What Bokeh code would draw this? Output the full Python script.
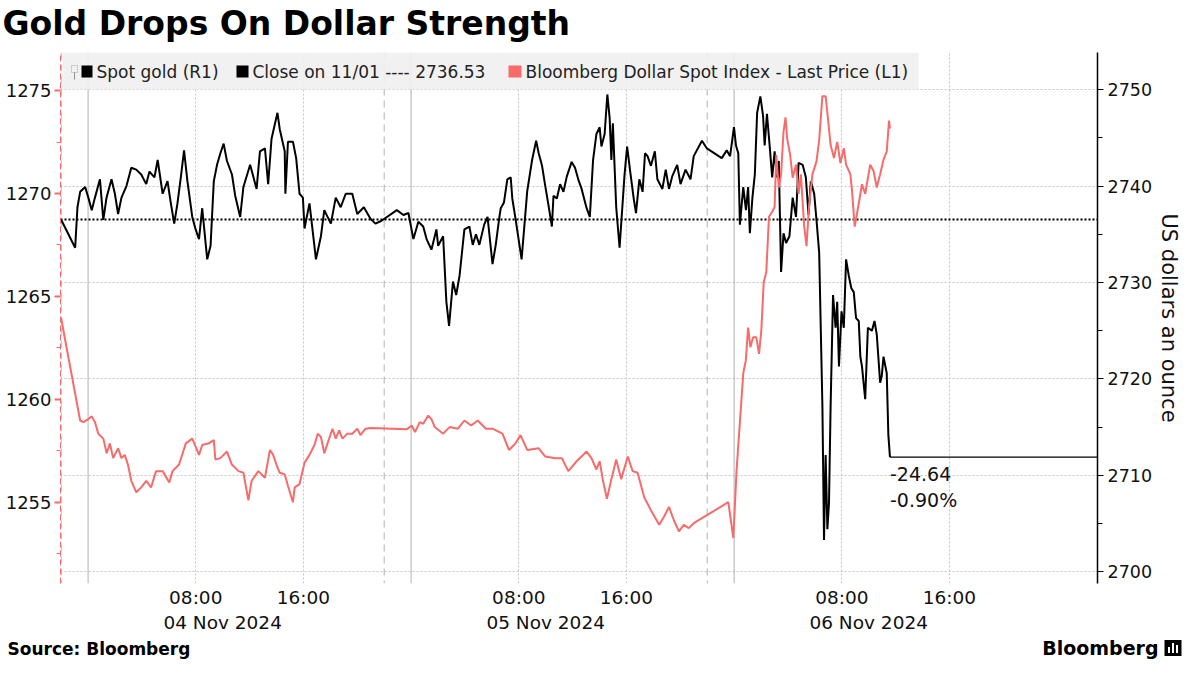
import numpy as np
import pandas as pd
from bokeh.plotting import figure
from bokeh.layouts import column
from bokeh.models import (Range1d, LinearAxis, DatetimeAxis, FixedTicker, SingleIntervalTicker,
                          DatetimeTickFormatter, Grid, Span, Label, BoxAnnotation)
from bokeh.embed import file_html
from bokeh.resources import INLINE

# ---------------- data (hours from 2024-11-04 00:00) ----------------
gold_hours = [-2.00, -0.96, -0.79, -0.59, -0.22, 0.02, 0.27, 0.51, 0.88, 1.13, 1.37, 1.74, 1.99, 2.23, 2.48,
              2.85, 3.21, 3.58, 3.95, 4.32, 4.56, 4.93, 5.17, 5.54, 5.90, 6.15, 6.40, 6.64, 6.89, 7.13,
              7.38, 7.74, 7.99, 8.24, 8.48, 8.85, 9.10, 9.34, 9.58, 9.83, 10.07, 10.32, 10.69, 10.93,
              11.30, 11.54, 12.04, 12.52, 12.77, 13.14, 13.38, 13.63, 14.07, 14.24, 14.61, 14.66, 14.85,
              15.22, 15.46, 15.71, 15.96, 16.08, 16.45, 16.93, 17.30, 17.55, 18.04, 18.40, 18.77, 19.14,
              19.63, 20.00, 20.49, 20.98, 21.35, 21.80, 22.94,
              23.43, 23.80, 24.17, 24.54, 24.90, 25.15, 25.51, 25.88, 26.01, 26.38, 26.62, 26.82, 27.11,
              27.35, 27.60, 27.96, 28.33, 28.58, 28.82, 29.07, 29.43, 29.68, 30.05, 30.29, 30.54, 30.66,
              30.90, 31.15, 31.40, 31.52, 31.76, 32.21, 32.63, 32.99, 33.29, 33.48, 33.73, 33.97, 34.21,
              34.46, 34.58, 34.83, 35.07, 35.32, 35.57, 35.93, 36.18, 36.42, 36.67, 37.04, 37.28, 37.52,
              37.77, 38.01, 38.14, 38.38, 38.58, 38.75, 38.88, 38.99, 39.24, 39.49, 39.85, 40.05, 40.29,
              40.54, 40.71, 40.96, 41.20, 41.38, 41.57, 41.82, 42.11, 42.30, 42.67, 42.92, 43.16, 43.40,
              43.77, 44.02, 44.39, 44.76, 45.00, 45.61, 45.98,
              47.08, 47.45, 47.70, 47.99, 48.14, 48.31, 48.43, 48.68, 48.88, 49.04, 49.17, 49.36, 49.54,
              49.71, 49.95, 50.15, 50.27, 50.44, 50.64, 50.83, 51.01, 51.18, 51.32, 51.49, 51.67, 51.86,
              52.11, 52.35, 52.60, 52.79, 53.09, 53.33, 53.53, 53.70, 53.95, 54.12, 54.32, 54.56, 54.68,
              54.80, 54.93, 55.05, 55.17, 55.35, 55.54, 55.66, 55.79, 55.98, 56.15, 56.32, 56.52, 56.71,
              56.89, 57.06, 57.26, 57.38, 57.50, 57.74, 57.94, 58.24, 58.43, 58.60, 58.85, 58.97, 59.10,
              59.34, 59.46, 59.58]
gold_price = [2736.5, 2733.6, 2737.8, 2739.4, 2739.9, 2738.8, 2737.5, 2738.8, 2740.7, 2736.5, 2738.8, 2740.7,
              2739.2, 2737.1, 2738.8, 2740.0, 2741.9, 2741.7, 2741.2, 2740.2, 2741.5, 2740.9, 2742.7, 2739.2,
              2740.5, 2738.2, 2736.1, 2738.2, 2740.9, 2743.7, 2740.5, 2736.8, 2735.5, 2734.5, 2737.7, 2732.4,
              2733.8, 2740.5, 2742.2, 2743.4, 2744.4, 2742.6, 2741.2, 2739.0, 2736.8, 2739.9, 2742.2, 2739.7,
              2743.6, 2743.9, 2740.2, 2744.9, 2747.6, 2745.9, 2743.6, 2739.2, 2744.6, 2744.6, 2742.9, 2739.2,
              2738.8, 2735.6, 2738.2, 2732.4, 2734.8, 2737.5, 2736.1, 2738.8, 2737.8, 2739.2, 2739.2, 2737.1,
              2737.8, 2736.6, 2736.1, 2736.4, 2737.5,
              2737.0, 2737.2, 2734.5, 2736.3, 2735.8, 2734.5, 2733.4, 2735.5, 2733.8, 2734.8, 2728.0, 2725.5,
              2730.1, 2728.7, 2730.7, 2735.5, 2735.8, 2733.9, 2735.0, 2733.9, 2736.0, 2736.8, 2731.9, 2733.9,
              2736.6, 2737.7, 2738.3, 2740.7, 2740.9, 2738.7, 2736.6, 2732.4, 2739.5, 2742.7, 2744.7, 2743.4,
              2742.1, 2740.0, 2738.0, 2735.8, 2739.0, 2738.7, 2740.2, 2739.4, 2741.0, 2742.5, 2741.9, 2740.7,
              2739.7, 2737.7, 2736.8, 2742.7, 2745.4, 2746.1, 2744.1, 2745.4, 2749.5, 2747.1, 2742.7, 2746.5,
              2737.8, 2733.6, 2741.0, 2744.1, 2741.4, 2738.7, 2737.2, 2740.7, 2739.4, 2743.4, 2743.1, 2742.1,
              2743.6, 2740.7, 2739.7, 2741.7, 2739.7, 2741.0, 2742.2, 2740.2, 2741.7, 2740.7, 2743.1, 2744.7,
              2743.9,
              2742.9, 2743.7, 2743.1, 2746.1, 2744.2, 2743.4, 2736.0, 2739.9, 2737.5, 2739.9, 2735.1, 2738.8,
              2741.2, 2747.6, 2749.3, 2747.3, 2744.2, 2747.5, 2744.2, 2740.9, 2743.6, 2740.9, 2742.6, 2731.1,
              2735.1, 2734.1, 2734.8, 2738.8, 2736.8, 2742.4, 2742.2, 2740.9, 2737.0, 2740.5, 2739.2, 2736.5,
              2733.1, 2717.2, 2703.3, 2712.1, 2704.4, 2707.1, 2717.2, 2728.7, 2725.3, 2728.0, 2721.3, 2727.0,
              2725.3, 2732.4, 2730.7, 2729.4, 2729.0, 2726.3, 2726.0, 2722.3, 2721.3, 2717.9, 2725.3, 2725.0,
              2726.0, 2724.6, 2719.6, 2720.3, 2722.3, 2720.6, 2714.2, 2711.89]

dxy_hours = [-2.01, -0.59, -0.35, 0.02, 0.27, 0.51, 0.76, 1.13, 1.38, 1.62, 1.86, 2.23, 2.48, 2.72, 2.96,
             3.21, 3.58, 3.95, 4.32, 4.68, 5.05, 5.54, 6.03, 6.27, 6.76, 7.26, 7.74, 7.99, 8.24, 8.48,
             8.97, 9.34, 9.46, 9.83, 10.32, 10.68, 11.18, 11.54, 11.91, 12.15, 12.65, 13.14, 13.51, 13.75,
             13.99, 14.24, 14.61, 14.85, 15.22, 15.35, 15.71, 16.08, 16.45, 16.82, 17.06, 17.30, 17.55,
             17.79, 18.16, 18.40, 18.65, 18.90, 19.26, 19.63, 20.00, 20.24, 20.61, 20.98,
             23.68, 24.04, 24.29, 24.65, 24.90, 25.27, 25.51, 25.76, 26.38, 26.86, 27.48, 27.96, 28.46,
             28.95, 29.56, 30.05, 30.79, 31.27, 31.76, 32.13, 32.63, 33.48, 33.97, 34.71, 35.20, 35.68,
             36.30, 37.04, 37.40, 37.77, 38.01, 38.26, 38.55, 38.88, 39.24, 39.61, 40.10, 40.46, 40.83,
             41.32, 41.82, 42.43, 42.79, 43.16, 43.53, 43.90, 44.26, 44.63, 45.00,
             47.57, 47.94, 48.18, 48.43, 48.68, 48.87, 49.04, 49.21, 49.41, 49.65, 49.85, 50.02, 50.20,
             50.39, 50.59, 50.83, 51.01, 51.13, 51.32, 51.49, 51.67, 51.82, 51.94, 52.16, 52.35, 52.60,
             52.79, 52.96, 53.21, 53.38, 53.58, 53.82, 54.12, 54.32, 54.56, 54.80, 55.00, 55.17, 55.42,
             55.66, 55.90, 56.15, 56.32, 56.64, 56.76, 56.96, 57.26, 57.50, 57.74, 58.11, 58.36, 58.60,
             58.85, 59.10, 59.34, 59.51, 59.58]
dxy_value = [1263.96, 1258.97, 1258.89, 1259.04, 1259.17, 1258.89, 1258.33, 1258.09, 1257.38, 1257.86,
             1257.14, 1257.62, 1257.14, 1257.30, 1256.83, 1256.04, 1255.48, 1255.72, 1256.04, 1255.72,
             1256.51, 1256.51, 1255.96, 1256.51, 1256.83, 1257.86, 1258.09, 1257.70, 1257.30, 1257.78,
             1257.86, 1258.02, 1257.07, 1257.14, 1257.46, 1256.83, 1256.51, 1256.43, 1255.09, 1256.04,
             1256.51, 1256.19, 1257.54, 1257.30, 1256.83, 1256.43, 1256.35, 1255.80, 1255.00, 1255.72,
             1255.88, 1256.91, 1257.30, 1257.78, 1258.33, 1258.17, 1257.38, 1257.86, 1258.57, 1258.09,
             1258.49, 1258.09, 1258.33, 1258.33, 1258.57, 1258.26, 1258.57, 1258.60,
             1258.54, 1258.73, 1258.41, 1258.89, 1258.81, 1259.21, 1259.04, 1258.65, 1258.33, 1258.65,
             1258.57, 1258.97, 1258.73, 1258.97, 1258.57, 1258.57, 1258.33, 1257.54, 1257.86, 1258.26,
             1257.54, 1257.62, 1257.22, 1257.14, 1257.14, 1256.51, 1256.99, 1257.46, 1257.14, 1256.59,
             1256.99, 1256.04, 1255.17, 1256.12, 1257.07, 1256.12, 1257.22, 1256.51, 1256.43, 1255.24,
             1254.61, 1253.90, 1254.29, 1254.77, 1254.11, 1253.58, 1253.90, 1253.74, 1253.98,
             1255.00, 1253.26, 1256.51, 1258.89, 1261.26, 1261.90, 1263.48, 1262.53, 1263.01, 1263.01,
             1262.21, 1263.32, 1265.70, 1266.17, 1268.87, 1269.11, 1269.34, 1271.88, 1270.29, 1270.93,
             1272.99, 1273.70, 1272.67, 1271.88, 1270.77, 1271.40, 1269.98, 1270.93, 1268.39, 1267.44,
             1269.50, 1270.93, 1271.56, 1272.59, 1274.73, 1274.73, 1273.46, 1272.35, 1271.72, 1272.51,
             1271.48, 1272.20, 1271.40, 1270.93, 1270.14, 1268.39, 1269.50, 1270.45, 1269.98, 1271.40,
             1271.09, 1270.29, 1270.93, 1271.64, 1272.04, 1273.54, 1273.15]

prev_close = 2736.53
prev_close_label = "Close on 11/01"
legend_labels = ["Spot gold (R1)", "Bloomberg Dollar Spot Index - Last Price (L1)"]
title_text = "Gold Drops On Dollar Strength"
source_text = "Source: Bloomberg"
brand_text = "Bloomberg"
time_tick_hours = [8, 16, 32, 40, 56, 64]
date_tick_hours = [10, 34, 58]
midnight_hours = [0, 24, 48]
session_break_hours = [-2, 22, 46]
x_start_h, x_end_h = -2.05, 75.0
dxy_lo, dxy_hi = 1251.05, 1276.85
gold_lo, gold_hi = 2698.78, 2753.85

assert len(gold_hours) == len(gold_price)
assert len(dxy_hours) == len(dxy_value)

# ---------------- helpers ----------------
FONT = "DejaVu Sans"
RED = "#f76b6b"
GRID = "#c4c4c4"
BASE = pd.Timestamp("2024-11-04 00:00")


def ms(h):
    return (BASE + pd.Timedelta(hours=float(h))).value / 1e6


def dts(hs):
    return BASE + pd.to_timedelta(np.asarray(hs, dtype=float), unit="h")


W = 1184
HEAD_H, FOOT_H = 42, 23
MAIN_H = 659 - HEAD_H - FOOT_H
FL, FR = 60, 1101
BORDER_TOP, BORDER_BOTTOM = 10, 53
FRAME_BOTTOM_PAGE = HEAD_H + MAIN_H - BORDER_BOTTOM


def no_align(f):
    try:
        f.frame_align = False
    except Exception:
        pass


def blank(height):
    f = figure(width=W, height=height, x_range=(0, 1), y_range=(0, 1), output_backend="svg",
               toolbar_location=None, x_axis_location=None, y_axis_location=None,
               min_border_left=0, min_border_right=0, min_border_top=0, min_border_bottom=0)
    f.outline_line_color = None
    f.grid.visible = False
    no_align(f)
    return f


def txt(text, x, y, size, bold=False, color="#111111", align="left"):
    return Label(x=x, y=y, x_units="screen", y_units="screen", text=text,
                 text_font=FONT, text_font_size=size, text_font_style="bold" if bold else "normal",
                 text_color=color, text_align=align, text_baseline="middle")


def sbox(x0, y0, x1, y1, fill, alpha=1.0, line=None):
    # x from frame left, y upward from frame bottom
    return BoxAnnotation(left=x0, right=x1, bottom=y0, top=y1,
                         left_units="screen", right_units="screen", top_units="screen",
                         bottom_units="screen", fill_color=fill, fill_alpha=alpha,
                         line_color=line, line_width=1)


# header
head = blank(HEAD_H)
head.add_layout(txt(title_text, 2, HEAD_H - 22.5, "33px", bold=True, color="black"))

# main chart
p = figure(width=W, height=MAIN_H, x_axis_type="datetime", output_backend="svg", toolbar_location=None,
           x_range=Range1d(ms(x_start_h), ms(x_end_h)), y_range=Range1d(dxy_lo, dxy_hi),
           min_border_left=FL, min_border_right=W - FR, min_border_top=BORDER_TOP,
           min_border_bottom=BORDER_BOTTOM)
no_align(p)
p.extra_y_ranges = {"gold": Range1d(gold_lo, gold_hi)}
p.outline_line_color = None
p.background_fill_color = "white"
p.border_fill_color = "white"

time_ticker = FixedTicker(ticks=[ms(h) for h in time_tick_hours])
gold_ticker = SingleIntervalTicker(interval=10, num_minor_ticks=2)
p.ygrid.visible = False
p.xgrid.ticker = time_ticker
p.xgrid.grid_line_color = GRID
p.xgrid.grid_line_dash = "2 2"
p.add_layout(Grid(dimension=1, ticker=gold_ticker, y_range_name="gold",
                  grid_line_color=GRID, grid_line_dash="2 2"))

for h in midnight_hours:
    p.add_layout(Span(location=ms(h), dimension="height", line_color="#b0b0b0",
                      line_width=1, level="underlay"))
for h in session_break_hours:
    p.add_layout(Span(location=ms(h), dimension="height", line_color="#b0b0b0",
                      line_width=1, line_dash="7 5", level="underlay"))

p.line([ms(x_start_h), ms(x_end_h)], [prev_close, prev_close], y_range_name="gold",
       line_color="black", line_width=2, line_dash="2 2")
p.line(dts(gold_hours), gold_price, y_range_name="gold", line_color="black", line_width=2)
p.line([ms(gold_hours[-1]), ms(x_end_h)], [gold_price[-1], gold_price[-1]], y_range_name="gold",
       line_color="black", line_width=1.4)
p.line(dts(dxy_hours), dxy_value, line_color=RED, line_width=2)

la = p.yaxis[0]
la.ticker = SingleIntervalTicker(interval=5, num_minor_ticks=2)
la.axis_line_color = RED
la.axis_line_dash = "6 3"
la.axis_line_width = 1
la.major_tick_line_color = RED
la.major_tick_line_width = 2
la.major_tick_out = 6
la.major_tick_in = 0
la.minor_tick_line_color = RED
la.minor_tick_out = 4
la.minor_tick_in = 0
la.major_label_text_font = FONT
la.major_label_text_font_size = "18px"
la.major_label_text_color = "#111111"
la.major_label_standoff = 3

ra = LinearAxis(y_range_name="gold", ticker=gold_ticker, axis_label="US dollars an ounce")
ra.axis_line_color = "black"
ra.axis_line_width = 1.5
ra.major_tick_line_color = "black"
ra.major_tick_out = 6
ra.major_tick_in = 0
ra.minor_tick_line_color = "black"
ra.minor_tick_out = 5
ra.minor_tick_in = 0
ra.major_label_text_font = FONT
ra.major_label_text_font_size = "17.5px"
ra.major_label_text_color = "#111111"
ra.major_label_standoff = 4
ra.axis_label_text_font = FONT
ra.axis_label_text_font_size = "21px"
ra.axis_label_text_font_style = "normal"
ra.axis_label_text_color = "#111111"
ra.axis_label_standoff = 2
p.add_layout(ra, "right")

fields = ["microseconds", "milliseconds", "seconds", "minsec", "minutes", "hourmin",
          "hours", "days", "months", "years"]
xa = p.xaxis[0]
xa.ticker = time_ticker
xa.formatter = DatetimeTickFormatter(**{f: "%H:%M" for f in fields})
da = DatetimeAxis(ticker=FixedTicker(ticks=[ms(h) for h in date_tick_hours]),
                  formatter=DatetimeTickFormatter(**{f: "%d %b %Y" for f in fields}))
p.add_layout(da, "below")
for ax, st in ((xa, 3), (da, 1)):
    ax.axis_line_color = None
    ax.major_tick_line_color = None
    ax.minor_tick_line_color = None
    ax.major_tick_out = 0
    ax.major_tick_in = 0
    ax.minor_tick_out = 0
    ax.major_label_text_font = FONT
    ax.major_label_text_font_size = "18.5px"
    ax.major_label_text_color = "#111111"
    ax.major_label_standoff = st


# legend etc. inside the frame, given in page pixels
def sx(px):
    return px - FL


def sy(py):
    return FRAME_BOTTOM_PAGE - py


def pbox(x0, y0, x1, y1, fill, alpha=1.0, line=None):
    return sbox(sx(x0), sy(y1), sx(x1), sy(y0), fill, alpha, line)


def plab(text, px, py, size):
    return txt(text, sx(px), sy(py), size, color="#222222")


p.add_layout(pbox(62, 52, 918, 89, "#efefef", 0.9))
p.add_layout(pbox(71, 65, 77, 72, None, 0.0, "#777777"))
p.add_layout(pbox(73.6, 72, 74.4, 79, "#777777", 1.0))
p.add_layout(pbox(81, 65, 92, 77, "black"))
p.add_layout(plab(legend_labels[0], 96, 71, "17px"))
p.add_layout(pbox(236, 65, 248, 77, "black"))
p.add_layout(plab(f"{prev_close_label} ---- {prev_close:.2f}", 252, 71, "17px"))
p.add_layout(pbox(508, 65, 521, 77, RED))
p.add_layout(plab(legend_labels[1], 525, 71, "17px"))

last_h, last_p = gold_hours[-1], gold_price[-1]
chg = last_p - prev_close
pct = chg / prev_close * 100
p.add_layout(Label(x=ms(last_h), y=last_p, y_range_name="gold", text=f"{chg:.2f}\n{pct:.2f}%",
                   x_offset=0, y_offset=-6, text_baseline="top", text_align="left",
                   text_font=FONT, text_font_size="19px", text_color="#111111"))

# footer
foot = blank(FOOT_H)
foot.add_layout(txt(source_text, 7, 10.5, "17px", bold=True, color="black"))
foot.add_layout(txt(brand_text, 1158, 11.5, "19px", bold=True, color="black", align="right"))
foot.add_layout(sbox(1164, 3.5, 1181, 19.5, "black"))
for bx0, bh in ((1167.5, 6), (1171.5, 10), (1175.5, 8)):
    foot.add_layout(sbox(bx0, 6.5, bx0 + 2, 6.5 + bh, "white"))

layout = column(head, p, foot, spacing=0)
open("out.html", "w").write(file_html(layout, INLINE))
